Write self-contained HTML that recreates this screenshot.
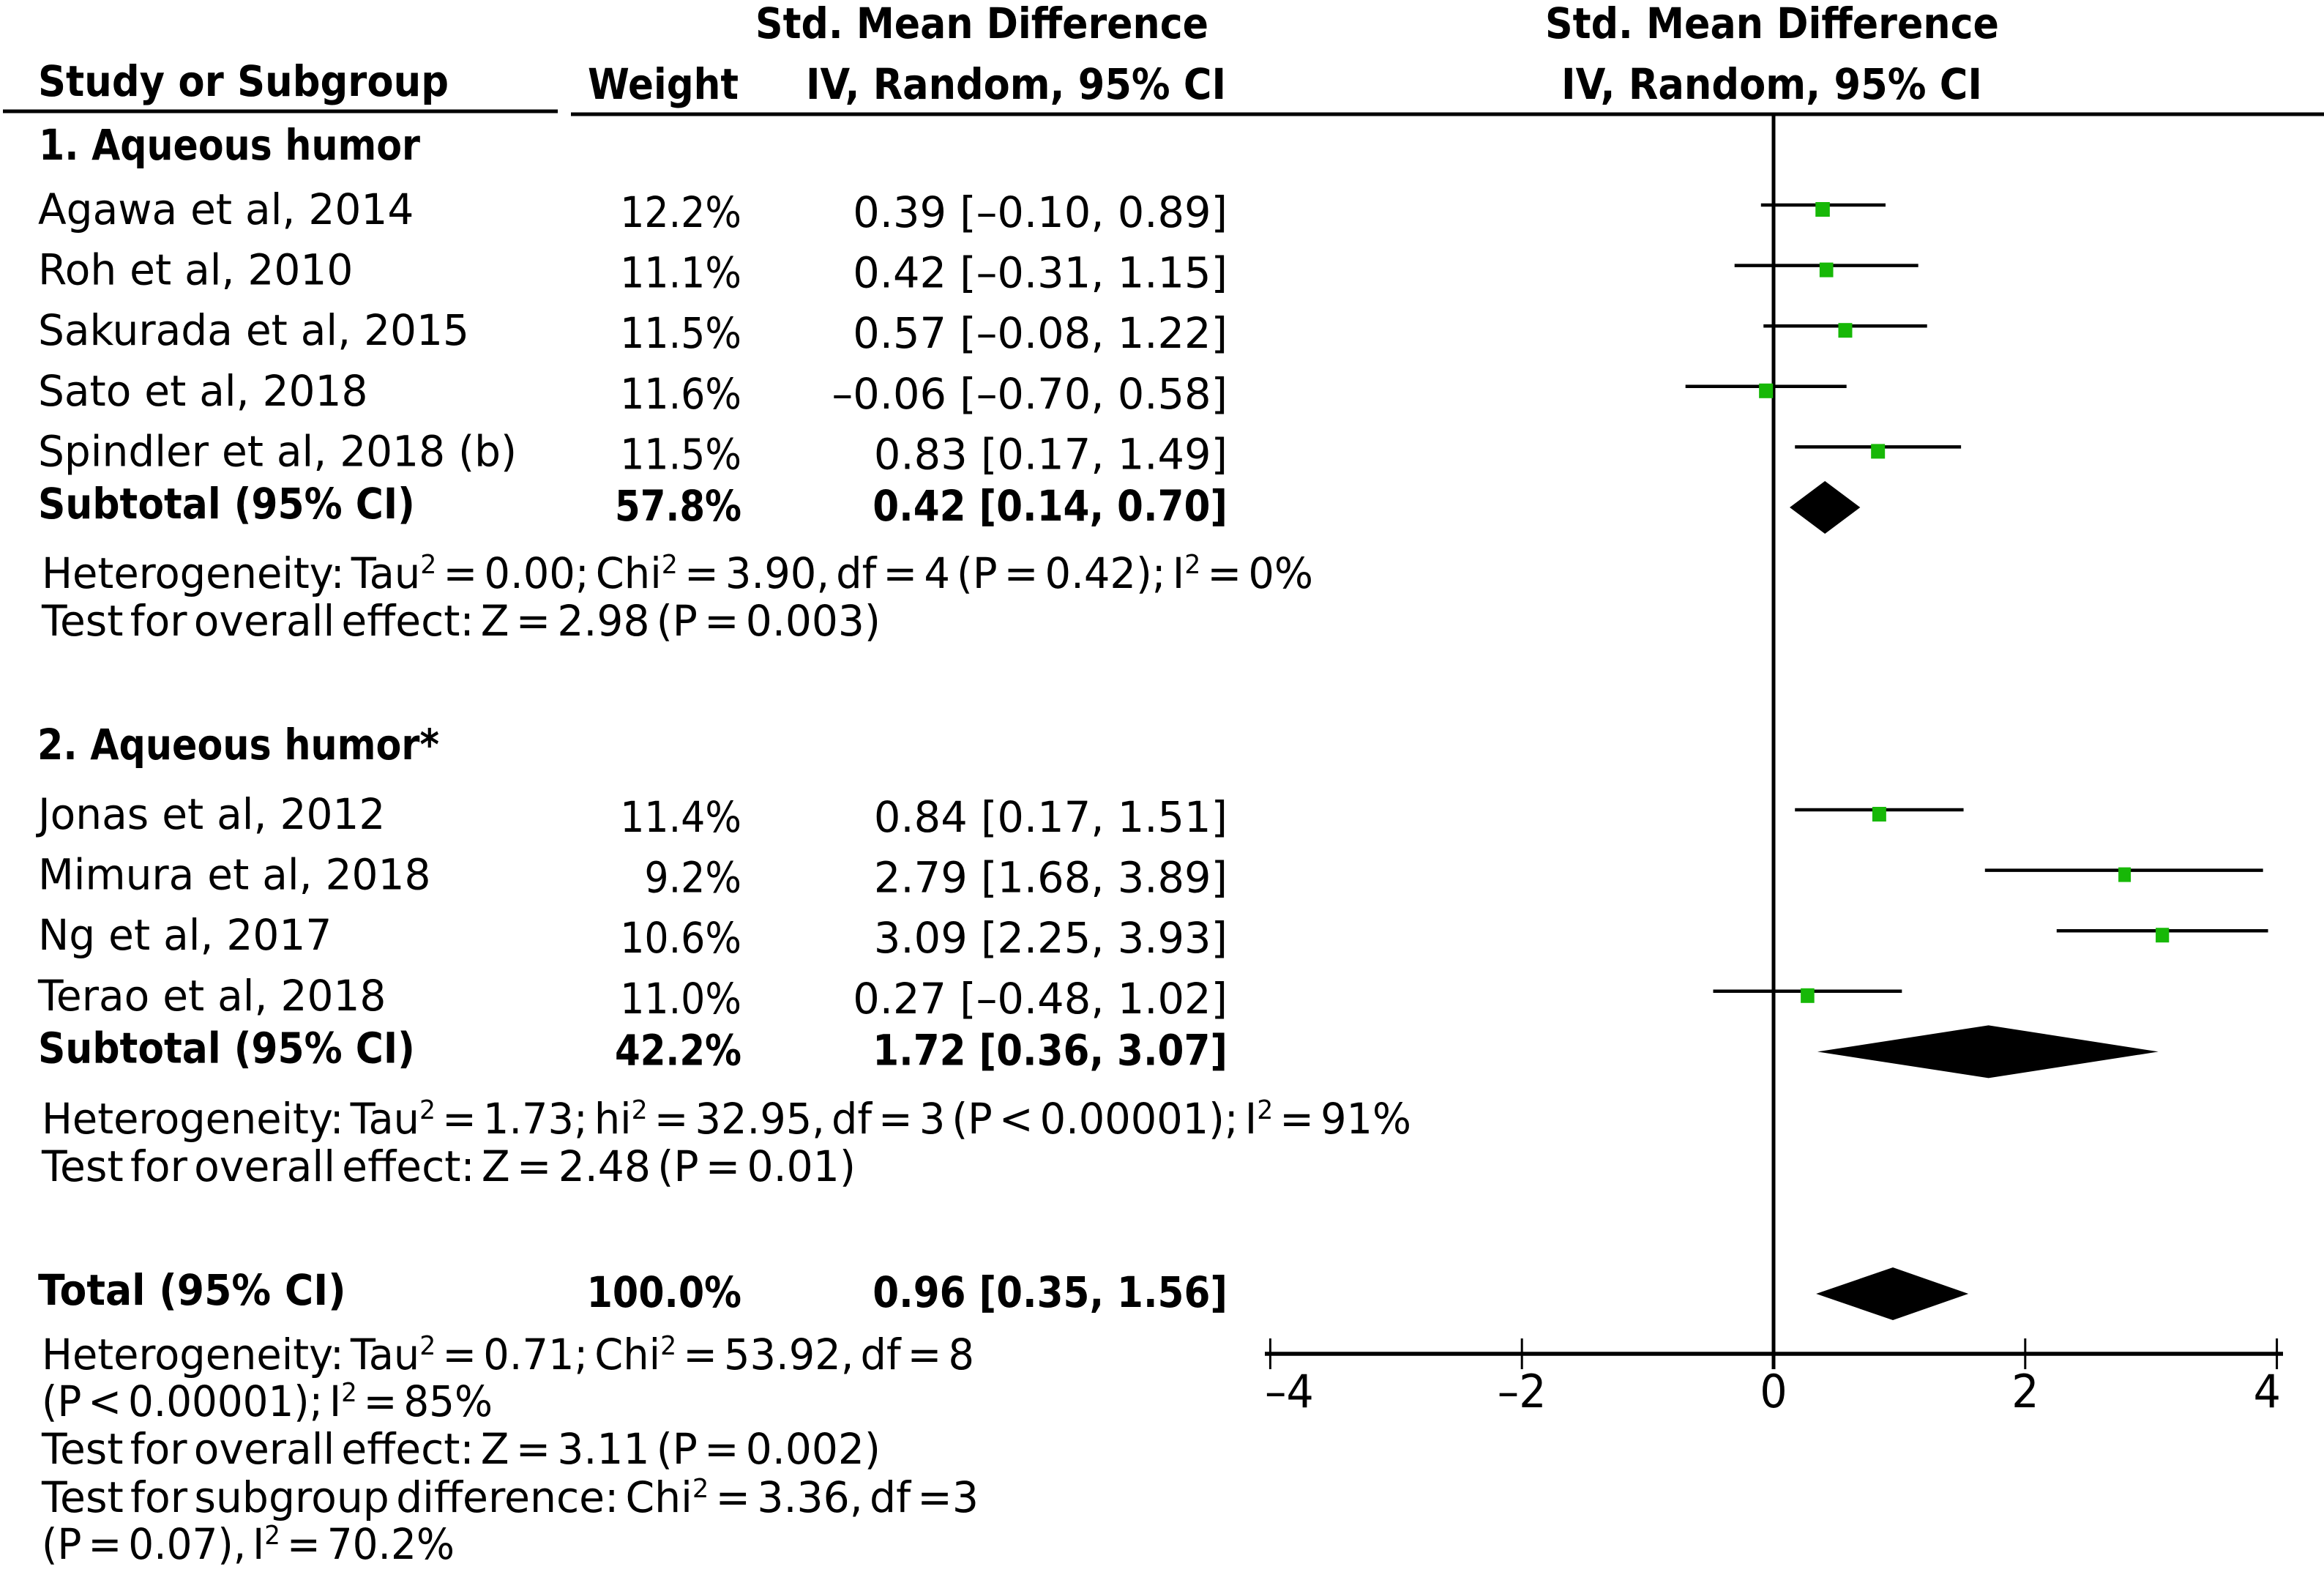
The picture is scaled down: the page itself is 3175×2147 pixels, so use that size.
<!DOCTYPE html>
<html lang="en">
<head>
<meta charset="utf-8">
<title>Forest plot: Std. Mean Difference</title>
<style>
html,body{margin:0;padding:0;background:#fff;}
svg{display:block;}
text{font-family:"DejaVu Sans","Liberation Sans",sans-serif;font-size:58px;fill:#000;}
.b{font-weight:bold;}
.n{word-spacing:-9px;}
</style>
</head>
<body>
<svg id="chart" xmlns="http://www.w3.org/2000/svg" width="3175" height="2147" viewBox="0 0 3175 2147">
<rect x="0" y="0" width="3175" height="2147" fill="#fff"/>

<text class="b" x="1032" y="52" textLength="619" lengthAdjust="spacingAndGlyphs">Std. Mean Difference</text>
<text class="b" x="2111" y="52" textLength="620" lengthAdjust="spacingAndGlyphs">Std. Mean Difference</text>
<text class="b" x="52" y="131" textLength="561" lengthAdjust="spacingAndGlyphs">Study or Subgroup</text>
<text class="b" x="803" y="135" textLength="206" lengthAdjust="spacingAndGlyphs">Weight</text>
<text class="b" x="1101" y="135" textLength="574" lengthAdjust="spacingAndGlyphs">IV, Random, 95% CI</text>
<text class="b" x="2133" y="135" textLength="575" lengthAdjust="spacingAndGlyphs">IV, Random, 95% CI</text>

<line x1="4" x2="762" y1="152" y2="152" stroke="#000" stroke-width="5"/>
<line x1="780" x2="3175" y1="156" y2="156" stroke="#000" stroke-width="5"/>

<text class="b" x="53" y="218" textLength="521" lengthAdjust="spacingAndGlyphs">1. Aqueous humor</text>
<text class="b" x="51" y="1037" textLength="549" lengthAdjust="spacingAndGlyphs">2. Aqueous humor*</text>

<text class="n" x="57" y="803" textLength="1737" lengthAdjust="spacingAndGlyphs">Heterogeneity: Tau<tspan dy="-20" font-size="36">2</tspan><tspan dy="20"> = 0.00; Chi</tspan><tspan dy="-20" font-size="36">2</tspan><tspan dy="20"> = 3.90, df = 4 (P = 0.42); I</tspan><tspan dy="-20" font-size="36">2</tspan><tspan dy="20"> = 0%</tspan></text>
<text class="n" x="57" y="868" textLength="1146" lengthAdjust="spacingAndGlyphs">Test for overall effect: Z = 2.98 (P = 0.003)</text>
<text class="n" x="57" y="1548" textLength="1871" lengthAdjust="spacingAndGlyphs">Heterogeneity: Tau<tspan dy="-20" font-size="36">2</tspan><tspan dy="20"> = 1.73; hi</tspan><tspan dy="-20" font-size="36">2</tspan><tspan dy="20"> = 32.95, df = 3 (P &lt; 0.00001); I</tspan><tspan dy="-20" font-size="36">2</tspan><tspan dy="20"> = 91%</tspan></text>
<text class="n" x="57" y="1613" textLength="1112" lengthAdjust="spacingAndGlyphs">Test for overall effect: Z = 2.48 (P = 0.01)</text>
<text class="n" x="57" y="1870" textLength="1274" lengthAdjust="spacingAndGlyphs">Heterogeneity: Tau<tspan dy="-20" font-size="36">2</tspan><tspan dy="20"> = 0.71; Chi</tspan><tspan dy="-20" font-size="36">2</tspan><tspan dy="20"> = 53.92, df = 8</tspan></text>
<text class="n" x="57" y="1934" textLength="616" lengthAdjust="spacingAndGlyphs">(P &lt; 0.00001); I<tspan dy="-20" font-size="36">2</tspan><tspan dy="20"> = 85%</tspan></text>
<text class="n" x="57" y="1999" textLength="1146" lengthAdjust="spacingAndGlyphs">Test for overall effect: Z = 3.11 (P = 0.002)</text>
<text class="n" x="57" y="2065" textLength="1280" lengthAdjust="spacingAndGlyphs">Test for subgroup difference: Chi<tspan dy="-20" font-size="36">2</tspan><tspan dy="20"> = 3.36, df =3</tspan></text>
<text class="n" x="57" y="2129" textLength="564" lengthAdjust="spacingAndGlyphs">(P = 0.07), I<tspan dy="-20" font-size="36">2</tspan><tspan dy="20"> = 70.2%</tspan></text>
</svg>

<script>
// Study data
const studyNames = ["Agawa et al, 2014","Roh et al, 2010","Sakurada et al, 2015","Sato et al, 2018","Spindler et al, 2018 (b)","Jonas et al, 2012","Mimura et al, 2018","Ng et al, 2017","Terao et al, 2018"];
const studyGroups = [0,0,0,0,0,1,1,1,1];
const studyWeights = [12.2,11.1,11.5,11.6,11.5,11.4,9.2,10.6,11.0];
const studyMeans = [0.39,0.42,0.57,-0.06,0.83,0.84,2.79,3.09,0.27];
const studyLows = [-0.10,-0.31,-0.08,-0.70,0.17,0.17,1.68,2.25,-0.48];
const studyHighs = [0.89,1.15,1.22,0.58,1.49,1.51,3.89,3.93,1.02];

// Summary data
const summaryLabels = ["Subtotal (95% CI)","Subtotal (95% CI)","Total (95% CI)"];
const summaryWeights = [57.8,42.2,100.0];
const summaryMeans = [0.42,1.72,0.96];
const summaryLows = [0.14,0.36,0.35];
const summaryHighs = [0.70,3.07,1.56];

// Axis ticks
const tickValues = [-4,-2,0,2,4];

const NS = 'http://www.w3.org/2000/svg';
const svg = document.getElementById('chart');
const X_ZERO = 2423, X_UNIT = 171.9;
const GROUP_ONE_TOP = 280, GROUP_TWO_TOP = 1106, ROW_STEP = 82.6, TOTAL_Y = 1767;
const AXIS_Y = 1849, AXIS_LEFT = 1728, AXIS_RIGHT = 3119;
const LINE_TOP = 156, TICK_TOP = 1828, TICK_BOTTOM = 1870;
const NAME_X = 52, WEIGHT_RIGHT = 1013, CI_RIGHT = 1677, DIAMOND_SHIFT = -2;

function xScale(v){ return X_ZERO + v * X_UNIT; }
function groupTop(g){ return g === 0 ? GROUP_ONE_TOP : GROUP_TWO_TOP; }
function rowY(g, i){ return groupTop(g) + ROW_STEP * i; }
function fmt(v){ return (v < 0 ? '\u2013' : '') + Math.abs(v).toFixed(2); }
function ciText(i, means, lows, highs){ return fmt(means[i]) + ' [' + fmt(lows[i]) + ', ' + fmt(highs[i]) + ']'; }

function makeLine(x1, x2, y1, y2, w){
  const l = document.createElementNS(NS, 'line');
  l.setAttribute('x1', x1); l.setAttribute('x2', x2);
  l.setAttribute('y1', y1); l.setAttribute('y2', y2);
  l.setAttribute('stroke', '#000'); l.setAttribute('stroke-width', w);
  svg.appendChild(l);
  return l;
}
function makeText(str, x, y, anchor, bold, squeeze){
  const t = document.createElementNS(NS, 'text');
  t.textContent = str;
  t.setAttribute('x', x); t.setAttribute('y', y);
  t.setAttribute('text-anchor', anchor);
  if (bold) t.setAttribute('class', 'b');
  svg.appendChild(t);
  t.setAttribute('textLength', (t.getComputedTextLength() * squeeze).toFixed(1));
  t.setAttribute('lengthAdjust', 'spacingAndGlyphs');
  return t;
}
function makeDiamond(lo, mid, hi, cy, half){
  const p = document.createElementNS(NS, 'polygon');
  const xl = xScale(lo) + DIAMOND_SHIFT, xm = xScale(mid) + DIAMOND_SHIFT, xh = xScale(hi) + DIAMOND_SHIFT;
  p.setAttribute('points', [xl+','+cy, xm+','+(cy-half), xh+','+cy, xm+','+(cy+half)].join(' '));
  p.setAttribute('fill', '#000');
  svg.appendChild(p);
  return p;
}

// Zero line
const zeroLine = makeLine(xScale(0), xScale(0), LINE_TOP, TICK_BOTTOM, 5);



// Study rows
const groupCounts = [0, 0];
studyNames.forEach(function(name, i){
  const g = studyGroups[i];
  const y = rowY(g, groupCounts[g]);
  groupCounts[g] += 1;

  const nameText = makeText(name, NAME_X, y + 26, 'start', false, 0.975);
  
  

  const weightText = makeText(studyWeights[i].toFixed(1) + '%', WEIGHT_RIGHT, y + 30, 'end', false, 0.9);
  
  

  const ci = makeText(ciText(i, studyMeans, studyLows, studyHighs), CI_RIGHT, y + 30, 'end', false, 0.99);
  
  

  const ciLine = makeLine(xScale(studyLows[i]), xScale(studyHighs[i]), y, y, 4.5);
  
  

  const size = 19 * Math.sqrt(studyWeights[i] / 11.5);
  const sq = document.createElementNS(NS, 'rect');
  sq.setAttribute('x', xScale(studyMeans[i]) - size / 2);
  sq.setAttribute('y', y + 6 - 10);
  sq.setAttribute('width', size);
  sq.setAttribute('height', 20);
  sq.setAttribute('fill', '#17b807');
  svg.appendChild(sq);
  
  
});

// Summary rows
summaryLabels.forEach(function(label, i){
  const y = i < 2 ? rowY(i, groupCounts[i]) : TOTAL_Y;

  const labelText = makeText(label, NAME_X, y + 15, 'start', true, i < 2 ? 0.895 : 0.925);
  
  

  const weightText = makeText(summaryWeights[i].toFixed(1) + '%', WEIGHT_RIGHT, y + 18, 'end', true, i < 2 ? 0.86 : 0.875);
  
  

  const ci = makeText(ciText(i, summaryMeans, summaryLows, summaryHighs), CI_RIGHT, y + 18, 'end', true, 0.89);
  
  

  const d = makeDiamond(summaryLows[i], summaryMeans[i], summaryHighs[i], y, 36);
  
  
});

// X axis
const axisLine = makeLine(AXIS_LEFT, AXIS_RIGHT, AXIS_Y, AXIS_Y, 5.5);



tickValues.forEach(function(v){
  const tick = makeLine(xScale(v), xScale(v), TICK_TOP, TICK_BOTTOM, 3);
  
  

  const label = makeText((v < 0 ? '\u2013' : '') + Math.abs(v), 0, 1922, 'start', false, 0.95);
  label.style.fontSize = '62px';
  label.removeAttribute('textLength');
  label.setAttribute('textLength', (label.getComputedTextLength() * 0.95).toFixed(1));
  const w = label.getComputedTextLength();
  const lx = Math.min(Math.max(xScale(v) - w / 2, AXIS_LEFT), AXIS_RIGHT - 3 - w);
  label.setAttribute('x', lx.toFixed(1));
  
  
});
</script>
</body>
</html>
